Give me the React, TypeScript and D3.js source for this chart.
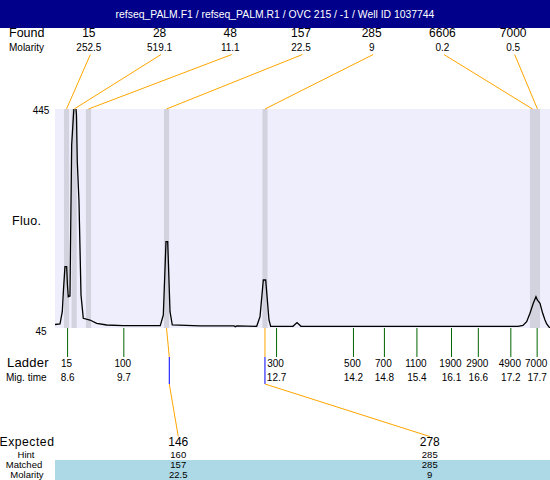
import React from 'react';
import * as d3 from 'd3';

const TITLE = 'refseq_PALM.F1 / refseq_PALM.R1 / OVC 215 / -1 / Well ID 1037744';

// Found peaks
const foundSizes = [15, 28, 48, 157, 285, 6606, 7000];
const foundMolarity = [252.5, 519.1, 11.1, 22.5, 9, 0.2, 0.5];
const foundTimes = [8.609, 8.758, 9.035, 10.547, 12.455, 17.64, 17.736];

// Ladder
const ladderSizes = [15, 100, 300, 500, 700, 1100, 1900, 2900, 4900, 7000];
const ladderTimes = [8.63, 9.72, 12.68, 14.17, 14.77, 15.4, 16.07, 16.59, 17.22, 17.73];

// Expected / matched table
const expectedSizes = [146, 278];
const hintSizes = [160, 285];
const matchedSizes = [157, 285];
const matchedMolarity = [22.5, 9];
const matchedTimes = [10.547, 12.455];
const expectedTimes = [10.601, 12.455];

// Electropherogram trace (migration time, fluorescence)
const traceTime = [
  8.386, 8.483, 8.527, 8.55, 8.579, 8.612, 8.627, 8.643, 8.676, 8.709, 8.744, 8.773, 8.802,
  8.818, 8.851, 8.89, 8.934, 9.064, 9.194, 9.388, 9.704, 10.426, 10.485, 10.537, 10.57, 10.615,
  10.659, 11.194, 11.853, 11.882, 11.911, 12.295, 12.359, 12.423, 12.469, 12.533, 12.566, 12.998,
  13.076, 13.153, 17.358, 17.455, 17.527, 17.591, 17.655, 17.707, 17.733, 17.785, 17.837, 17.882,
  17.915, 17.979,
];
const traceFluo = [
  51.4, 52.3, 74.8, 114.4, 157, 157, 123.5, 102.2, 103.5, 379.2, 434, 470.6, 434,
  348.7, 275.7, 105.3, 62.7, 59.6, 53.6, 50.5, 49.2, 49.2, 68.7, 202.6, 202.6, 74.8,
  50.5, 48.7, 48.7, 47.4, 48.7, 48.1, 65.6, 132.7, 132.7, 59.6, 48.1, 48.1,
  55, 48.1, 48.1, 49.6, 56.5, 71.8, 90.1, 102.2, 96.1, 90.1, 71.8, 59.6,
  52.3, 44.5,
];

const fluoTicks = [45, 445];
const timeDomain = [8.386, 17.979];

const W = 550;
const H = 480;
const PL = 55;
const PR = 550;
const PT = 109;
const PB = 328;
const FONT = '"Liberation Sans", Arial, Helvetica, sans-serif';
const ORANGE = '#FFA500';

export default function App() {
  const x = d3.scaleLinear().domain(timeDomain).range([PL, PR]);
  const y = d3.scaleLinear().domain([fluoTicks[0], fluoTicks[1]]).range([PB, PT]);
  const pts = traceTime.map((t, i) => [t, traceFluo[i]] as [number, number]);
  const line = d3
    .line<[number, number]>()
    .x((d) => x(d[0]))
    .y((d) => y(d[1]));
  const bandHalf = 0.05;
  const slotW = (PR - PL) / foundSizes.length;
  const slotX = (i: number) => PL + slotW * (i + 0.5);
  const colW = (PR - PL) / expectedSizes.length;
  const colX = (i: number) => PL + colW * (i + 0.5) - 0.5 + i * 4;
  const fmt1 = d3.format('.1f');

  const rowY = { expected: 446.3, hint: 457.8, matched: 468, molarity: 478.2 };

  return (
    <svg
      width={W}
      height={H}
      style={{ position: 'absolute', left: 0, top: 0, display: 'block', background: '#fff' }}
      fontFamily={FONT}
    >
      <defs>
        <clipPath id="plotclip">
          <rect x={PL} y={PT} width={PR - PL} height={PB - PT} />
        </clipPath>
      </defs>
      {/* title */}
      <rect x={0} y={0} width={W} height={28} fill="#00008B" />
      <text x={W / 2} y={18} fill="#fff" fontSize={10.4} textAnchor="middle">
        {TITLE}
      </text>

      {/* found row */}
      <text x={9} y={37} fontSize={12.5} fill="#000">Found</text>
      <text x={9} y={50.5} fontSize={10} fill="#000">Molarity</text>
      {foundSizes.map((s, i) => (
        <g key={'f' + i}>
          <text x={slotX(i) - 1.5} y={37} fontSize={12} textAnchor="middle" fill="#000">
            {s}
          </text>
          <text x={slotX(i) - 1.5} y={50.8} fontSize={10} textAnchor="middle" fill="#000">
            {String(foundMolarity[i])}
          </text>
        </g>
      ))}

      {/* plot area */}
      <rect x={PL} y={PT} width={PR - PL} height={PB - PT} fill="#EEEEFC" />
      {foundTimes.map((t, i) => (
        <rect
          key={'b' + i}
          x={x(t - bandHalf)}
          y={PT}
          width={x(t + bandHalf) - x(t - bandHalf)}
          height={PB - PT}
          fill="#D3D3E0"
          clipPath="url(#plotclip)"
        />
      ))}
      <path d={line(pts) || ''} fill="none" stroke="#000" strokeWidth={1.3} clipPath="url(#plotclip)" />

      {/* top connectors */}
      {foundTimes.map((t, i) => (
        <line key={'tc' + i} x1={slotX(i)} y1={54.5} x2={x(t)} y2={PT} stroke={ORANGE} strokeWidth={1} />
      ))}

      {/* y labels */}
      <text x={41} y={114} fontSize={10} textAnchor="middle" fill="#000">{fluoTicks[1]}</text>
      <text x={41} y={334.5} fontSize={10} textAnchor="middle" fill="#000">{fluoTicks[0]}</text>
      <text x={12} y={225} fontSize={12.5} fill="#000" letterSpacing={0.3}>Fluo.</text>

      {/* ladder */}
      {ladderTimes.map((t, i) => (
        <g key={'l' + i}>
          <line x1={x(t)} y1={PB} x2={x(t)} y2={357} stroke="#006400" strokeWidth={1} />
          <text x={x(t) - 1} y={367} fontSize={10} textAnchor="middle" fill="#000">
            {ladderSizes[i]}
          </text>
          <text x={x(t)} y={381} fontSize={10} textAnchor="middle" fill="#000">
            {fmt1(t)}
          </text>
        </g>
      ))}
      <text x={7} y={367} fontSize={13} fill="#000" letterSpacing={0.2}>Ladder</text>
      <text x={6} y={381} fontSize={10} fill="#000">Mig. time</text>

      {/* bottom connectors */}
      {expectedTimes.map((t, i) => (
        <g key={'bc' + i}>
          <line x1={x(matchedTimes[i])} y1={PB} x2={x(t)} y2={357} stroke={ORANGE} strokeWidth={1} />
          <line x1={x(t)} y1={357} x2={x(t)} y2={384} stroke="#0000FF" strokeWidth={1} />
          <line x1={x(t)} y1={384} x2={colX(i)} y2={436.5} stroke={ORANGE} strokeWidth={1} />
        </g>
      ))}

      {/* table */}
      <rect x={PL} y={460} width={PR - PL} height={20} fill="#ADD8E6" />
      <text x={27} y={rowY.expected} fontSize={12.2} textAnchor="middle" fill="#000" letterSpacing={0.5}>Expected</text>
      <text x={26} y={rowY.hint} fontSize={9.5} textAnchor="middle" fill="#000">Hint</text>
      <text x={24} y={rowY.matched} fontSize={9.5} textAnchor="middle" fill="#000">Matched</text>
      <text x={27} y={rowY.molarity} fontSize={9.5} textAnchor="middle" fill="#000">Molarity</text>
      {expectedSizes.map((s, i) => {
        const cx = colX(i);
        return (
          <g key={'t' + i}>
            <text x={cx} y={rowY.expected} fontSize={12} textAnchor="middle" fill="#000">{s}</text>
            <text x={cx} y={rowY.hint} fontSize={9.5} textAnchor="middle" fill="#000">{hintSizes[i]}</text>
            <text x={cx} y={rowY.matched} fontSize={9.5} textAnchor="middle" fill="#000">{matchedSizes[i]}</text>
            <text x={cx} y={rowY.molarity} fontSize={9.5} textAnchor="middle" fill="#000">{String(matchedMolarity[i])}</text>
          </g>
        );
      })}
    </svg>
  );
}
